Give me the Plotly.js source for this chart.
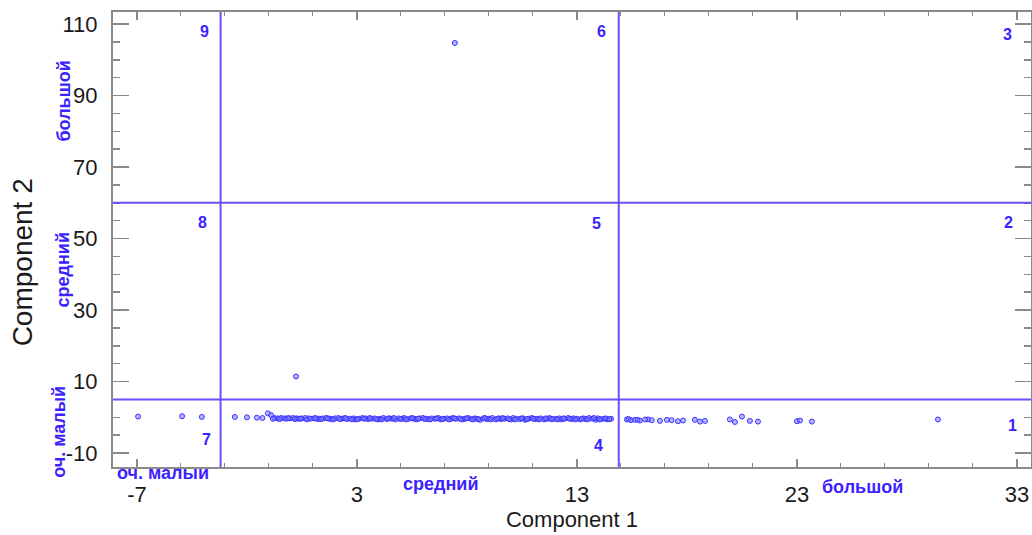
<!DOCTYPE html>
<html>
<head>
<meta charset="utf-8">
<script src="https://cdn.plot.ly/plotly-3.0.1.min.js"></script>
<style>html,body{margin:0;padding:0;background:#fff;}#chart{width:1032px;height:535px;}</style>
</head>
<body>
<div id="chart"></div>
<script>
// Component scores (x = Component 1, y = Component 2)
var comp1 = [
  -6.95, -4.95, -4.05, -2.55, -2.0, -1.55, -1.3, -1.05, -0.9, -0.75,
  -0.6, -0.45, -0.3, -0.2, -0.05, 0.1, 0.25, 0.35, 0.5, 0.65,
  0.8, 0.9, 1.05, 1.2, 1.3, 1.45, 1.6, 1.75, 1.85, 2.0,
  2.15, 2.3, 2.4, 2.55, 2.7, 2.85, 2.95, 3.1, 3.25, 3.4,
  3.5, 3.65, 3.8, 3.95, 4.05, 4.2, 4.35, 4.5, 4.6, 4.75,
  4.9, 5.05, 5.15, 5.3, 5.45, 5.6, 5.7, 5.85, 6.0, 6.15,
  6.25, 6.4, 6.55, 6.7, 6.8, 6.95, 7.1, 7.25, 7.35, 7.5,
  7.65, 7.8, 7.9, 8.05, 8.2, 8.35, 8.45, 8.6, 8.75, 8.9,
  9.0, 9.15, 9.3, 9.45, 9.55, 9.7, 9.85, 10.0, 10.1, 10.25,
  10.4, 10.55, 10.65, 10.8, 10.95, 11.1, 11.2, 11.35, 11.5, 11.65,
  11.75, 11.9, 12.05, 12.2, 12.3, 12.45, 12.6, 12.75, 12.85, 13.0,
  13.15, 13.3, 13.4, 13.55, 13.7, 13.85, 13.95, 14.1, 14.25, 14.4,
  14.55, 15.27, 15.45, 15.64, 15.86, 16.23, 16.4, 16.77, 17.09, 17.59,
  17.82, 18.36, 18.59, 18.82, 19.95, 20.18, 20.5, 20.86, 21.23, 23.0,
  23.14, 23.68, 29.41, 0.23, 7.45,
  -0.82, -0.52, -0.12, 0.18, 0.42, 0.72, 1.12, 1.38, 1.68, 1.92,
  2.22, 2.48, 2.78, 3.02, 3.32, 3.58, 3.88, 4.12, 4.42, 4.68,
  4.98, 5.22, 5.52, 5.78, 6.08, 6.32, 6.62, 6.88, 7.18, 7.42,
  7.72, 7.98, 8.28, 8.52, 8.82, 9.08, 9.38, 9.62, 9.92, 10.18,
  10.48, 10.72, 11.02, 11.28, 11.58, 11.82, 12.12, 12.38, 12.68, 12.92,
  13.22, 13.48, 13.78, 14.02, 14.32, 14.48, 15.35, 15.75, 16.1, 17.3
];
var comp2 = [
  0.2, 0.3, 0.1, 0.1, 0.0, -0.1, -0.2, 1.1, 0.6, -0.2,
  -0.3, -0.2, -0.3, -0.4, -0.3, -0.2, -0.3, -0.4, -0.3, -0.2,
  -0.3, -0.4, -0.3, -0.5, -0.4, -0.3, -0.2, -0.4, -0.5, -0.3,
  -0.2, -0.4, -0.3, -0.5, -0.4, -0.3, -0.6, -0.4, -0.2, -0.3,
  -0.5, -0.4, -0.3, -0.6, -0.4, -0.2, -0.5, -0.3, -0.4, -0.6,
  -0.3, -0.4, -0.2, -0.5, -0.3, -0.4, -0.6, -0.3, -0.2, -0.4,
  -0.5, -0.3, -0.4, -0.2, -0.6, -0.4, -0.3, -0.5, -0.2, -0.4,
  -0.3, -0.6, -0.4, -0.2, -0.5, -0.3, -0.4, -0.7, -0.3, -0.5,
  -0.4, -0.2, -0.6, -0.3, -0.5, -0.4, -0.3, -0.6, -0.2, -0.4,
  -0.5, -0.3, -0.7, -0.4, -0.2, -0.5, -0.4, -0.3, -0.6, -0.4,
  -0.2, -0.5, -0.4, -0.3, -0.6, -0.4, -0.2, -0.5, -0.3, -0.4,
  -0.6, -0.3, -0.5, -0.2, -0.4, -0.7, -0.3, -0.5, -0.4, -0.6,
  -0.4, -0.6, -0.8, -0.7, -0.9, -0.6, -0.8, -1.0, -0.7, -1.1,
  -0.9, -0.7, -1.2, -1.0, -0.6, -1.3, 0.2, -1.0, -1.2, -1.1,
  -0.9, -1.2, -0.6, 11.4, 104.7,
  -0.4, -0.5, -0.2, -0.5, -0.4, -0.6, -0.2, -0.5, -0.3, -0.6,
  -0.5, -0.2, -0.6, -0.5, -0.4, -0.2, -0.5, -0.6, -0.3, -0.2,
  -0.5, -0.6, -0.2, -0.4, -0.5, -0.6, -0.3, -0.5, -0.6, -0.3,
  -0.5, -0.3, -0.6, -0.5, -0.2, -0.6, -0.4, -0.2, -0.5, -0.6,
  -0.3, -0.5, -0.4, -0.6, -0.3, -0.5, -0.6, -0.3, -0.4, -0.6,
  -0.4, -0.6, -0.2, -0.6, -0.3, -0.5, -0.5, -0.7, -0.6, -0.8
];

// Class boundaries
var comp1Cuts = [-3.2, 14.9];
var comp2Cuts = [5, 60];

// Axis ticks
var xTicks = [-7, 3, 13, 23, 33];
var xTickText = ["-7", "3", "13", "23", "33"];
var yTicks = [-10, 10, 30, 50, 70, 90, 110];
var yTickText = ["-10", "10", "30", "50", "70", "90", "110"];

// Axis titles
var xTitle = "Component 1";
var yTitle = "Component 2";

// Region numbers and their positions (data units)
var regionNames = ["9", "6", "3", "8", "5", "2", "7", "4", "1"];
var regionX = [-3.95, 14.1, 32.55, -4.0, 13.9, 32.6, -3.86, 14.0, 32.8];
var regionY = [107.8, 107.8, 107.2, 54.6, 54.1, 54.6, -6.2, -7.9, -2.3];

// Class names
var yClassNames = ["большой", "средний", "оч. малый"];
var xClassNames = ["оч. малыи", "средний", "большой"];

var FONT = "Liberation Sans, Arial, sans-serif";
var blueText = "#3b22ff";
var lineColor = "#6f4dff";

var shapes = [];
comp1Cuts.forEach(function (c) {
  shapes.push({type: "line", xref: "x", yref: "paper", x0: c, x1: c, y0: 0, y1: 1,
    line: {color: lineColor, width: 2}});
});
comp2Cuts.forEach(function (c) {
  shapes.push({type: "line", xref: "paper", yref: "y", x0: 0, x1: 1, y0: c, y1: c,
    line: {color: lineColor, width: 2}});
});

var annotations = [];
regionNames.forEach(function (n, i) {
  annotations.push({xref: "x", yref: "y", x: regionX[i], y: regionY[i], text: "<b>" + n + "</b>",
    xanchor: "center", yanchor: "middle",
    showarrow: false, font: {family: FONT, size: 16, color: blueText}});
});
var yClassPos = [[-0.053, 0.804], [-0.055, 0.433], [-0.059, 0.077]];
yClassNames.forEach(function (n, i) {
  annotations.push({xref: "paper", yref: "paper", x: yClassPos[i][0], y: yClassPos[i][1],
    xanchor: "center", yanchor: "middle",
    text: "<b>" + n + "</b>", textangle: -90, showarrow: false,
    font: {family: FONT, size: 18, color: blueText}});
});
var xClassPos = [[0.054, -0.013], [0.357, -0.037], [0.816, -0.044]];
xClassNames.forEach(function (n, i) {
  annotations.push({xref: "paper", yref: "paper", x: xClassPos[i][0], y: xClassPos[i][1],
    xanchor: "center", yanchor: "middle",
    text: "<b>" + n + "</b>", showarrow: false,
    font: {family: FONT, size: 18, color: blueText}});
});
// Y-axis title (placed as a rotated label to sit where the reference has it)
annotations.push({xref: "paper", yref: "paper", x: -0.099, y: 0.45,
  xanchor: "center", yanchor: "middle", text: yTitle, textangle: -90, showarrow: false,
  font: {family: FONT, size: 28, color: "#1a1a1a"}});

var trace = {
  type: "scatter", mode: "markers", x: comp1, y: comp2,
  marker: {symbol: "circle", size: 5, color: "rgba(120,120,255,0.55)",
    line: {color: "#3a33ff", width: 1}},
  hoverinfo: "x+y"
};

var axisCommon = {
  showgrid: false, zeroline: false, showline: true, linecolor: "#8a8a8a", linewidth: 2,
  mirror: "ticks", ticks: "inside", tickcolor: "#8a8a8a", tickwidth: 1.5,
  tickfont: {family: FONT, size: 22, color: "#1a1a1a"}
};

var layout = {
  width: 1032, height: 535,
  margin: {l: 113, r: 1, t: 12, b: 68},
  paper_bgcolor: "#ffffff", plot_bgcolor: "#ffffff",
  showlegend: false,
  xaxis: Object.assign({}, axisCommon, {
    range: [-8.09, 33.64], tickmode: "array", tickvals: xTicks, ticktext: xTickText, ticklen: 8,
    minor: {dtick: 2, tick0: -7, ticklen: 4, ticks: "inside", tickcolor: "#8a8a8a", tickwidth: 1},
    ticklabelstandoff: 7,
    title: {text: xTitle, standoff: 5,
      font: {family: FONT, size: 22, color: "#1a1a1a"}}
  }),
  yaxis: Object.assign({}, axisCommon, {
    range: [-13.9, 113.36], tickmode: "array", tickvals: yTicks, ticktext: yTickText, ticklen: 16,
    minor: {dtick: 5, tick0: 0, ticklen: 7, ticks: "inside", tickcolor: "#8a8a8a", tickwidth: 1.5},
    ticklabelstandoff: 9,
    title: {text: ""}
  }),
  shapes: shapes,
  annotations: annotations
};

Plotly.newPlot("chart", [trace], layout, {staticPlot: true, displayModeBar: false});
</script>
</body>
</html>
